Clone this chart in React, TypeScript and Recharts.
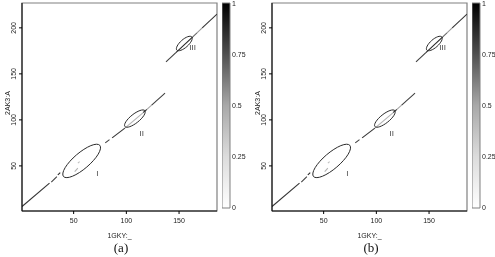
import React from 'react'
import {
  ComposedChart,
  Line,
  Scatter,
  XAxis,
  YAxis,
  ReferenceArea,
  BarChart,
  Bar,
  Label,
} from 'recharts'

type Pt = { x: number; y: number }

const sans = '"Liberation Sans", Arial, Helvetica, sans-serif'

const xTicks = [50, 100, 150]
const yTicks = [50, 100, 150, 200]
const scoreTicks = [0, 0.25, 0.5, 0.75, 1]
const xDomain = [1, 186]
const yDomain = [1, 227]

// aligned stretches along the diagonal: [x1, y1, x2, y2, score]
const segments: number[][] = [
  [1, 5.8, 27.1, 31.2, 0.8],
  [28.8, 32.3, 34.1, 38.4, 0.75],
  [35, 40.2, 37.3, 42.7, 0.85],
  [51, 43.8, 54, 47.5, 0.3],
  [54, 53, 55.7, 54.7, 0.25],
  [80, 75, 84, 78.5, 0.75],
  [86.5, 80.5, 98.6, 91, 0.8],
  [98.6, 91, 116, 107.9, 0.3],
  [116, 108, 119.5, 111.5, 0.8],
  [119.5, 111.5, 124, 116, 0.35],
  [124, 116, 136.7, 129, 0.75],
  [137.6, 163, 147, 173.1, 0.75],
  [147, 173.1, 163, 190.3, 0.85],
  [163, 190.3, 167, 194.6, 0.6],
  [167, 194.6, 172, 200, 0.4],
  [172, 200, 186, 215, 0.8],
]

// outline points of the three marked regions
const ellipseI: Pt[] = [
  { x: 76.7, y: 74.2 }, { x: 75, y: 63.5 }, { x: 63, y: 48.1 }, { x: 48, y: 37 },
  { x: 38.5, y: 36.6 }, { x: 40.2, y: 47.3 }, { x: 52.2, y: 62.7 }, { x: 67.2, y: 73.8 },
]
const ellipseII: Pt[] = [
  { x: 118.6, y: 111 }, { x: 117.6, y: 105.2 }, { x: 111, y: 97.2 }, { x: 102.8, y: 91.7 },
  { x: 97.6, y: 91.8 }, { x: 98.6, y: 97.6 }, { x: 105.2, y: 105.6 }, { x: 113.4, y: 111.1 },
]
const ellipseIII: Pt[] = [
  { x: 162.9, y: 190.9 }, { x: 162.5, y: 186.1 }, { x: 157.8, y: 179.4 }, { x: 151.4, y: 174.8 },
  { x: 147.1, y: 175.1 }, { x: 147.5, y: 179.9 }, { x: 152.2, y: 186.6 }, { x: 158.6, y: 191.2 },
]

const regionLabels = [
  { x: 72.4, y: 42, name: 'I' },
  { x: 114.6, y: 85.4, name: 'II' },
  { x: 162.9, y: 178.5, name: 'III' },
]

const scoreBar = [{ name: '', v: 1 }]

const shade = (v: number) => {
  const g = Math.round(255 * (1 - v))
  return `rgb(${g},${g},${g})`
}

function YTick(props: any) {
  const { x, y, payload } = props
  return (
    <text
      x={x}
      y={y}
      transform={`rotate(-90, ${x}, ${y})`}
      textAnchor="middle"
      fontSize={7}
      fill="#222"
      fontFamily={sans}
    >
      {payload.value}
    </text>
  )
}

function RegionLabel(props: any) {
  return (
    <text
      x={props.cx}
      y={props.cy}
      textAnchor="middle"
      dominantBaseline="central"
      fontSize={8}
      fill="#444"
      fontFamily={sans}
    >
      {props.payload.name}
    </text>
  )
}

function XTitle(props: any) {
  const vb = props.viewBox ?? { x: 22, y: 211, width: 195, height: 30 }
  return (
    <text x={vb.x + vb.width / 2} y={vb.y + 26.5} textAnchor="middle" fontSize={7} fill="#222" fontFamily={sans}>
      1GKY:_
    </text>
  )
}

function YTitle(props: any) {
  const vb = props.viewBox ?? { x: 0, y: 3, width: 22, height: 208 }
  const x = vb.x + 10
  const y = vb.y + 100
  return (
    <text x={x} y={y} transform={`rotate(-90, ${x}, ${y})`} textAnchor="middle" fontSize={7} fill="#222" fontFamily={sans}>
      2AK3:A
    </text>
  )
}

function ColorBar() {
  return (
    <div style={{ position: 'absolute', left: 222, top: 0 }}>
      <BarChart width={30} height={257} data={scoreBar} margin={{ top: 3, right: 0, bottom: 49, left: 0 }} barCategoryGap={0}>
        <XAxis dataKey="name" hide />
        <YAxis
          orientation="right"
          domain={[0, 1]}
          ticks={scoreTicks}
          width={22}
          axisLine={false}
          tickLine={false}
          tickSize={0}
          tickMargin={2}
          tick={{ fontSize: 7, fill: '#222', fontFamily: sans }}
        />
        <Bar dataKey="v" fill="url(#scoreGrad)" stroke="#808080" strokeWidth={1} isAnimationActive={false} />
      </BarChart>
    </div>
  )
}

function Panel({ left, caption }: { left: number; caption: string }) {
  const ellipses = [ellipseI, ellipseII, ellipseIII]
  return (
    <div style={{ position: 'absolute', left, top: 0, width: 250, height: 257 }}>
      <ComposedChart width={250} height={257} margin={{ top: 3, right: 33, bottom: 16, left: 0 }}>
        <XAxis
          type="number"
          dataKey="x"
          domain={xDomain}
          ticks={xTicks}
          allowDataOverflow
          height={30}
          tickSize={3}
          tickMargin={4}
          stroke="#000"
          tick={{ fontSize: 7, fill: '#222', fontFamily: sans }}
          label={<Label content={XTitle} />}
        />
        <YAxis
          type="number"
          dataKey="y"
          domain={yDomain}
          ticks={yTicks}
          allowDataOverflow
          width={22}
          tickSize={3}
          tickMargin={3}
          stroke="#000"
          tick={<YTick />}
          label={<Label content={YTitle} />}
        />
        <ReferenceArea x1={1} x2={186} y1={1} y2={227} fill="none" stroke="#808080" strokeWidth={1.2} />
        {segments.map((s, i) => (
          <Line
            key={`s${i}`}
            data={[
              { x: s[0], y: s[1] },
              { x: s[2], y: s[3] },
            ]}
            dataKey="y"
            type="linear"
            stroke={shade(s[4])}
            strokeWidth={1.1}
            dot={false}
            activeDot={false}
            isAnimationActive={false}
          />
        ))}
        {ellipses.map((e, i) => (
          <Line
            key={`e${i}`}
            data={e}
            dataKey="y"
            type="basisClosed"
            stroke="#2a2a2a"
            strokeWidth={1}
            fill="none"
            dot={false}
            activeDot={false}
            isAnimationActive={false}
          />
        ))}
        <Scatter data={regionLabels} dataKey="y" shape={RegionLabel} isAnimationActive={false} />
      </ComposedChart>
      <ColorBar />
      <div
        style={{
          position: 'absolute',
          left: 0,
          top: 240,
          width: 242,
          textAlign: 'center',
          fontFamily: '"Liberation Serif", "DejaVu Serif", serif',
          fontSize: 13,
          color: '#111',
        }}
      >
        {caption}
      </div>
    </div>
  )
}

export default function App() {
  return (
    <div
      style={{
        position: 'fixed',
        left: 0,
        top: 0,
        width: 495,
        height: 257,
        background: '#fff',
        overflow: 'hidden',
        filter: 'grayscale(1)',
      }}
    >
      <svg width={0} height={0} style={{ position: 'absolute' }}>
        <defs>
          <linearGradient id="scoreGrad" x1="0" y1="1" x2="0" y2="0">
            <stop offset="0" stopColor="#ffffff" />
            <stop offset="0.25" stopColor="#dcdcdc" />
            <stop offset="0.5" stopColor="#a8a8a8" />
            <stop offset="0.75" stopColor="#505050" />
            <stop offset="1" stopColor="#000000" />
          </linearGradient>
        </defs>
      </svg>
      <Panel left={0} caption="(a)" />
      <Panel left={250} caption="(b)" />
    </div>
  )
}
